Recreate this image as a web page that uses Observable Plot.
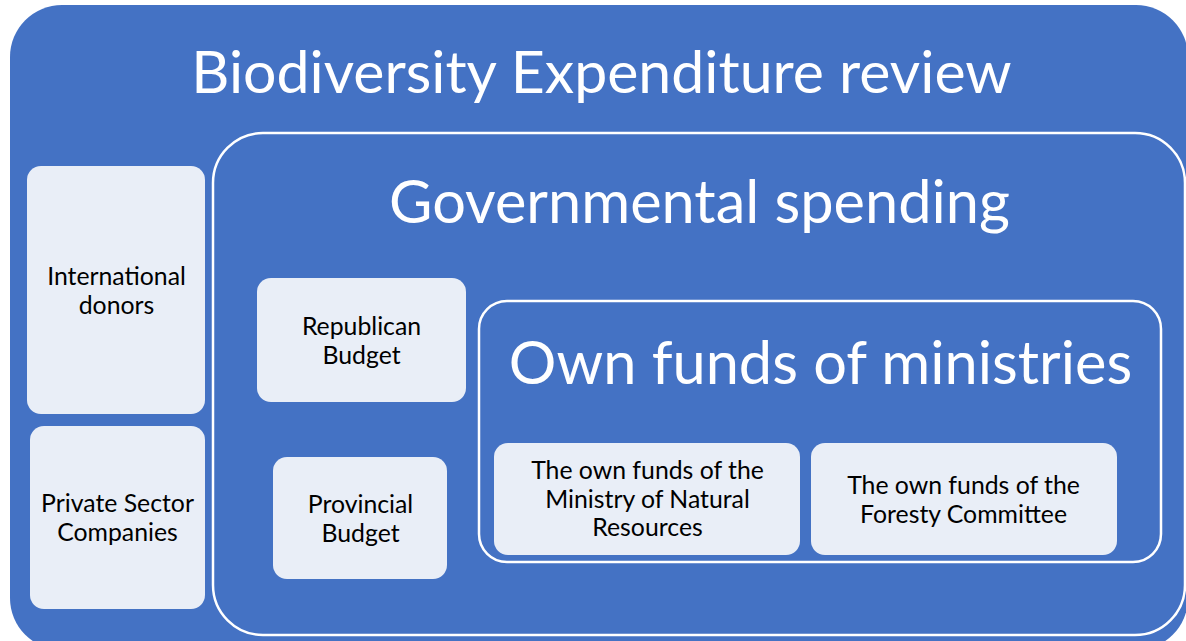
<!DOCTYPE html>
<html>
<head>
<meta charset="utf-8">
<script src="https://cdn.jsdelivr.net/npm/d3@7"></script>
<script src="https://cdn.jsdelivr.net/npm/@observablehq/plot@0.6"></script>
<style>
  html, body { margin: 0; padding: 0; background: #ffffff; }
  #chart svg { display: block; }
</style>
</head>
<body>
<div id="chart"></div>
<script>
// Nested containers (blue with white outline) of the diagram
const containerNames = ["Biodiversity Expenditure review", "Governmental spending", "Own funds of ministries"];
const containerX1 = [10, 213, 479];
const containerX2 = [1188, 1185, 1161];
const containerY1 = [5, 133, 301];
const containerY2 = [650, 635, 562];

// Leaf boxes (light fill)
const leafNames = [
  "International\ndonors",
  "Private Sector\nCompanies",
  "Republican\nBudget",
  "Provincial\nBudget",
  "The own funds of the\nMinistry of Natural\nResources",
  "The own funds of the\nForesty Committee"
];
const leafX1 = [27, 30, 257, 273, 494, 811];
const leafX2 = [205, 205, 466, 447, 800, 1117];
const leafY1 = [166, 426, 278, 457, 443, 443];
const leafY2 = [414, 609, 402, 579, 555, 555];

// Label anchor points
const titleX = [601, 699, 820];
const titleY = [92, 222, 383];
const leafLabelX = [116, 117, 361, 360, 647, 963];
const leafLabelY = [290, 517, 340, 518, 498, 499];

const containers = containerNames.map((name, i) => ({
  name, x1: containerX1[i], x2: containerX2[i], y1: containerY1[i], y2: containerY2[i],
  tx: titleX[i], ty: titleY[i], level: i
}));
const leaves = leafNames.map((name, i) => ({
  name, x1: leafX1[i], x2: leafX2[i], y1: leafY1[i], y2: leafY2[i],
  tx: leafLabelX[i], ty: leafLabelY[i]
}));

const BLUE = "#4472C4";
const LIGHT = "#E9EEF7";
const FONT = "Lato, 'Open Sans', sans-serif";

const plot = Plot.plot({
  width: 1186,
  height: 641,
  margin: 0,
  style: { background: "#ffffff", fontFamily: FONT },
  x: { domain: [0, 1186], axis: null },
  y: { domain: [0, 641], range: [0, 641], axis: null },
  marks: [
    Plot.rect(containers.filter(d => d.level === 0), {
      x1: "x1", x2: "x2", y1: "y1", y2: "y2", fill: BLUE, rx: 52, clip: true
    }),
    Plot.rect(containers.filter(d => d.level === 1), {
      x1: "x1", x2: "x2", y1: "y1", y2: "y2", fill: BLUE, stroke: "white", strokeWidth: 2.5, rx: 50
    }),
    Plot.rect(containers.filter(d => d.level === 2), {
      x1: "x1", x2: "x2", y1: "y1", y2: "y2", fill: BLUE, stroke: "white", strokeWidth: 2.5, rx: 28
    }),
    Plot.rect(leaves, {
      x1: "x1", x2: "x2", y1: "y1", y2: "y2", fill: LIGHT, rx: 14
    }),
    Plot.text(containers.filter(d => d.level === 0), {
      x: "tx", y: "ty", text: "name", fill: "white", fontSize: 59, lineAnchor: "bottom", textAnchor: "middle"
    }),
    Plot.text(containers.filter(d => d.level > 0), {
      x: "tx", y: "ty", text: "name", fill: "white", fontSize: 59.5, lineAnchor: "bottom", textAnchor: "middle"
    }),
    Plot.text(leaves, {
      x: "tx", y: "ty", text: "name", fill: "#000000", fontSize: 24.8, lineHeight: 1.15,
      lineAnchor: "middle", textAnchor: "middle"
    })
  ]
});
document.getElementById("chart").appendChild(plot);
</script>
</body>
</html>
